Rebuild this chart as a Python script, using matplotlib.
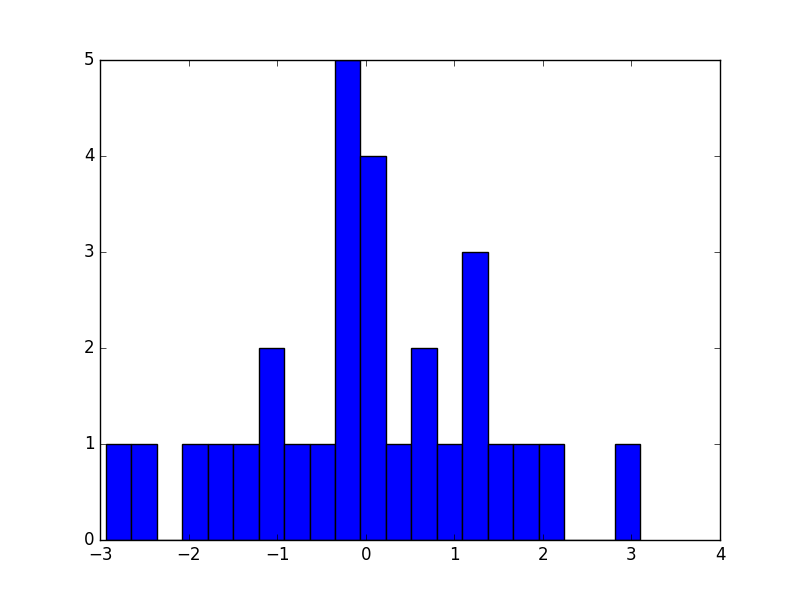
import numpy as np
import matplotlib
matplotlib.use("Agg")
import matplotlib.pyplot as plt

plt.style.use("classic")

# Histogram data
bin_lo = -2.932
bin_hi = 3.101
counts = [1, 1, 0, 1, 1, 1, 2, 1, 1, 5, 4, 1, 2, 1, 3, 1, 1, 1, 0, 0, 1]

edges = np.linspace(bin_lo, bin_hi, len(counts) + 1)
centers = (edges[:-1] + edges[1:]) / 2

fig = plt.figure(figsize=(8, 6), dpi=100)
ax = fig.add_subplot(111)
ax.hist(centers, bins=edges, weights=counts, color="blue", edgecolor="black")
ax.set_xlim(-3, 4)
ax.set_ylim(0, 5)
fig.savefig("out.png", dpi=100)
